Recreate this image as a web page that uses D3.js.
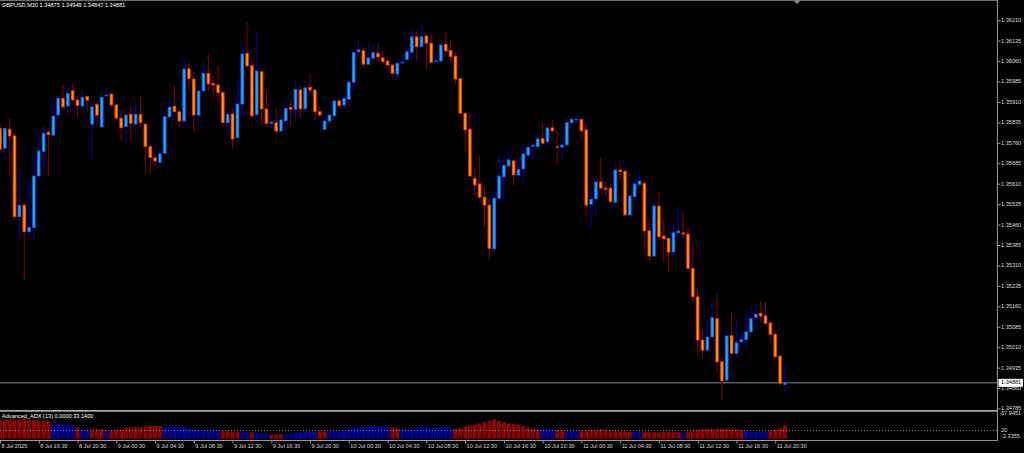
<!DOCTYPE html>
<html><head><meta charset="utf-8">
<script src="https://cdn.jsdelivr.net/npm/d3@7"></script>
<style>html,body{margin:0;padding:0;background:#000;overflow:hidden}svg{display:block}</style>
</head><body><svg id="c" width="1024" height="453"></svg>
<script>
// ---------------- DATA ----------------
const titleText = "GBPUSD,M30  1.34875 1.34949 1.34847 1.34881";
const indicatorTitle = "Advanced_ADX (13) 0.0000 33.1400";
const firstBarTime = "2025-07-08 12:30";   // M30 bars, consecutive
const open = [1.35815,1.35742,1.35812,1.35788,1.35491,1.35533,1.35436,1.35451,1.35640,1.35730,1.35801,1.35790,1.35864,1.35925,1.35897,1.35953,1.35919,1.35897,1.35932,1.35830,1.35903,1.35820,1.35934,1.35941,1.35901,1.35852,1.35821,1.35866,1.35831,1.35866,1.35830,1.35748,1.35707,1.35690,1.35723,1.35858,1.35896,1.35876,1.35842,1.36034,1.35996,1.35863,1.35953,1.36017,1.35980,1.35974,1.35946,1.35836,1.35868,1.35781,1.35904,1.36090,1.36045,1.35866,1.36023,1.35886,1.35833,1.35836,1.35805,1.35843,1.35892,1.35885,1.35956,1.35887,1.35965,1.35956,1.35876,1.35811,1.35842,1.35861,1.35916,1.35901,1.35921,1.35984,1.36096,1.36100,1.36050,1.36072,1.36090,1.36074,1.36062,1.36047,1.36014,1.36055,1.36068,1.36094,1.36151,1.36115,1.36154,1.36127,1.36060,1.36062,1.36123,1.36101,1.36080,1.35998,1.35870,1.35812,1.35631,1.35611,1.35562,1.35533,1.35373,1.35558,1.35637,1.35677,1.35696,1.35644,1.35666,1.35717,1.35748,1.35748,1.35778,1.35766,1.35817,1.35748,1.35746,1.35754,1.35836,1.35846,1.35848,1.35809,1.35536,1.35556,1.35619,1.35596,1.35595,1.35543,1.35662,1.35658,1.35497,1.35564,1.35609,1.35613,1.35439,1.35346,1.35530,1.35420,1.35411,1.35362,1.35432,1.35432,1.35427,1.35301,1.35197,1.35038,1.35001,1.35050,1.35117,1.34958,1.34891,1.35055,1.34989,1.35032,1.35040,1.35068,1.35121,1.35136,1.35127,1.35101,1.35059,1.34979,1.34875];
const high = [1.35833,1.35819,1.35852,1.35797,1.35662,1.35536,1.35625,1.35723,1.35797,1.35827,1.35809,1.35907,1.35937,1.35974,1.35974,1.35980,1.35934,1.35962,1.35937,1.35919,1.35913,1.35934,1.35953,1.35943,1.35903,1.35882,1.35882,1.35897,1.35913,1.35937,1.35833,1.35754,1.35726,1.35738,1.35864,1.35925,1.35974,1.35888,1.36068,1.36056,1.36023,1.35956,1.36060,1.36090,1.36005,1.36044,1.35956,1.35876,1.35888,1.35995,1.36133,1.36207,1.36066,1.36173,1.36025,1.35952,1.35888,1.35886,1.35860,1.35919,1.35921,1.35998,1.35970,1.35970,1.36014,1.35961,1.35894,1.35858,1.35868,1.35925,1.35925,1.35937,1.35992,1.36103,1.36139,1.36109,1.36127,1.36117,1.36129,1.36100,1.36078,1.36051,1.36060,1.36084,1.36105,1.36182,1.36173,1.36200,1.36164,1.36161,1.36090,1.36127,1.36170,1.36137,1.36093,1.36002,1.35872,1.35870,1.35668,1.35717,1.35603,1.35558,1.35579,1.35721,1.35711,1.35735,1.35699,1.35705,1.35760,1.35762,1.35762,1.35790,1.35833,1.35821,1.35846,1.35805,1.35790,1.35839,1.35860,1.35860,1.35852,1.35827,1.35613,1.35625,1.35708,1.35619,1.35613,1.35669,1.35674,1.35662,1.35570,1.35631,1.35650,1.35619,1.35481,1.35549,1.35579,1.35478,1.35417,1.35464,1.35533,1.35509,1.35450,1.35387,1.35228,1.35075,1.35111,1.35181,1.35206,1.34974,1.35081,1.35142,1.35115,1.35075,1.35150,1.35164,1.35166,1.35181,1.35179,1.35105,1.35071,1.34982,1.34949];
const low = [1.35735,1.35705,1.35637,1.35485,1.35405,1.35258,1.35417,1.35405,1.35619,1.35662,1.35640,1.35784,1.35839,1.35882,1.35858,1.35913,1.35855,1.35885,1.35876,1.35693,1.35827,1.35815,1.35929,1.35894,1.35846,1.35770,1.35766,1.35766,1.35803,1.35819,1.35650,1.35647,1.35674,1.35664,1.35721,1.35852,1.35874,1.35819,1.35821,1.35950,1.35799,1.35827,1.35950,1.35956,1.35929,1.35909,1.35821,1.35790,1.35742,1.35778,1.35864,1.36039,1.35852,1.35833,1.35827,1.35819,1.35809,1.35797,1.35803,1.35809,1.35821,1.35839,1.35855,1.35876,1.35943,1.35846,1.35858,1.35809,1.35836,1.35858,1.35892,1.35885,1.35907,1.35956,1.36078,1.36032,1.36047,1.36068,1.36054,1.36051,1.36044,1.36014,1.36002,1.36044,1.36063,1.36063,1.36068,1.36112,1.36027,1.36051,1.36054,1.36060,1.36084,1.36056,1.35978,1.35860,1.35726,1.35637,1.35570,1.35558,1.35451,1.35334,1.35356,1.35546,1.35554,1.35644,1.35604,1.35619,1.35613,1.35705,1.35701,1.35735,1.35756,1.35745,1.35794,1.35680,1.35696,1.35750,1.35833,1.35831,1.35772,1.35493,1.35451,1.35497,1.35589,1.35564,1.35540,1.35540,1.35623,1.35493,1.35494,1.35546,1.35601,1.35371,1.35325,1.35344,1.35405,1.35322,1.35289,1.35344,1.35399,1.35411,1.35297,1.35175,1.34979,1.34967,1.34995,1.35048,1.34916,1.34818,1.34889,1.34986,1.34986,1.35007,1.35007,1.35062,1.35087,1.35105,1.35095,1.35026,1.34967,1.34869,1.34847];
const close = [1.35738,1.35815,1.35787,1.35491,1.35533,1.35436,1.35451,1.35640,1.35732,1.35797,1.35792,1.35860,1.35925,1.35894,1.35943,1.35919,1.35899,1.35929,1.35918,1.35894,1.35863,1.35929,1.35937,1.35901,1.35852,1.35817,1.35864,1.35833,1.35866,1.35836,1.35748,1.35708,1.35695,1.35721,1.35858,1.35893,1.35876,1.35842,1.36033,1.35998,1.35864,1.35952,1.36017,1.35978,1.35974,1.35946,1.35836,1.35866,1.35776,1.35904,1.36088,1.36044,1.35861,1.36025,1.35886,1.35833,1.35838,1.35805,1.35846,1.35888,1.35885,1.35958,1.35887,1.35964,1.35956,1.35876,1.35864,1.35842,1.35864,1.35916,1.35898,1.35925,1.35984,1.36093,1.36103,1.36050,1.36074,1.36093,1.36077,1.36060,1.36047,1.36017,1.36054,1.36058,1.36096,1.36151,1.36115,1.36151,1.36127,1.36057,1.36063,1.36121,1.36099,1.36078,1.35996,1.35870,1.35809,1.35640,1.35607,1.35562,1.35533,1.35374,1.35558,1.35640,1.35679,1.35699,1.35644,1.35664,1.35721,1.35745,1.35753,1.35777,1.35760,1.35817,1.35806,1.35745,1.35754,1.35836,1.35848,1.35848,1.35806,1.35533,1.35554,1.35619,1.35595,1.35591,1.35546,1.35662,1.35656,1.35497,1.35567,1.35611,1.35622,1.35439,1.35346,1.35530,1.35417,1.35410,1.35360,1.35432,1.35438,1.35427,1.35301,1.35197,1.35038,1.35001,1.35048,1.35120,1.34958,1.34889,1.35053,1.34989,1.35028,1.35040,1.35068,1.35117,1.35133,1.35126,1.35099,1.35059,1.34977,1.34879,1.34881];
const adxValue = [45.8,47.5,47.5,47.5,47.5,47.5,45.8,45.8,44.2,44.2,41.7,37.6,36.8,36.0,34.3,32.7,27.8,22.9,22.9,22.9,22.9,22.9,19.6,19.6,21.2,22.9,26.2,27.8,27.8,27.8,29.4,31.1,31.1,31.1,29.4,29.4,31.1,29.4,27.8,26.2,22.9,21.2,21.2,21.2,21.2,21.2,18.8,18.8,17.2,17.2,17.2,15.5,15.5,14.7,13.1,13.1,9.8,9.8,11.4,11.4,13.1,14.7,16.3,17.2,18.0,18.8,18.8,18.8,18.0,18.0,19.6,21.2,24.5,27.0,27.8,29.4,30.3,31.1,31.1,31.1,31.1,27.8,26.2,22.9,22.9,24.5,26.2,29.4,29.4,26.2,26.2,27.8,29.4,29.4,24.5,26.2,29.4,31.9,34.3,37.6,40.1,43.4,47.5,44.2,40.9,37.6,36.0,34.3,31.1,27.8,24.5,22.9,22.9,22.9,22.9,21.2,21.2,19.6,19.6,19.6,19.6,19.6,21.2,21.2,22.9,21.2,19.6,19.6,18.0,18.0,17.2,17.2,17.2,18.0,16.3,16.3,14.7,16.3,16.3,16.3,16.3,14.7,17.2,19.6,21.2,22.9,24.5,24.5,25.3,24.5,25.3,24.5,22.9,21.2,17.2,16.3,16.3,16.3,17.2,19.6,22.9,26.2,33.14];
// R = DI- dominant (red), B = DI+ dominant (blue)
const adxDir = ("RRRRRRRRRRR"+"BBBBB"+"R"+"BB"+"RRR"+"B"+"RRRRRRRRRRR"+"BBBBBBBBBBBB"+"RRRR"+"BB"+"R"+"BBB"+"RRR"+"BBBBBBB"+"RR"+"BBBBBBBBBBBBB"+"RR"+"BBBBBBBBBBB"+"RRRRRRRRRRRRRRRRRR"+"BBB"+"RR"+"BBB"+"RRRRRRRRRRR"+"BB"+"RRRRRRRR"+"B"+"RRRRRRRRRRRR"+"BBBBB"+"RRRR").split("");
const priceTicks = [1.36210,1.36135,1.36060,1.35985,1.35910,1.35835,1.35760,1.35685,1.35610,1.35535,1.35460,1.35385,1.35310,1.35235,1.35160,1.35085,1.35010,1.34935,1.34860,1.34785];
const xTickTimes = ["2025-07-08 12:30","2025-07-08 16:30","2025-07-08 20:30","2025-07-09 00:30","2025-07-09 04:30","2025-07-09 08:30","2025-07-09 12:30","2025-07-09 16:30","2025-07-09 20:30","2025-07-10 00:30","2025-07-10 04:30","2025-07-10 08:30","2025-07-10 12:30","2025-07-10 16:30","2025-07-10 20:30","2025-07-11 00:30","2025-07-11 04:30","2025-07-11 08:30","2025-07-11 12:30","2025-07-11 16:30","2025-07-11 20:30"];
const xTickLabels = ["8 Jul 2025","8 Jul 16:30","8 Jul 20:30","9 Jul 00:30","9 Jul 04:30","9 Jul 08:30","9 Jul 12:30","9 Jul 16:30","9 Jul 20:30","10 Jul 00:30","10 Jul 04:30","10 Jul 08:30","10 Jul 12:30","10 Jul 16:30","10 Jul 20:30","11 Jul 00:30","11 Jul 04:30","11 Jul 08:30","11 Jul 12:30","11 Jul 16:30","11 Jul 20:30"];
const adxMax = 67.9451, adxMin = -3.3355;
const adxLevels = [20];
const adxAxisLabels = ["67.9451","20","-3.3355"];

// ---------------- DRAW ----------------
const parse = d3.timeParse("%Y-%m-%d %H:%M");
const N = open.length;
const t0 = parse(firstBarTime);
const times = d3.range(N).map(i => d3.timeMinute.offset(t0, 30 * i));
const bars = d3.range(N).map(i => ({t: times[i], o: open[i], h: high[i], l: low[i], c: close[i], v: adxValue[i], d: adxDir[i]}));

const W = 1024, H = 453;
const plotRight = 997.5;
const step = 4.845;
const x = d3.scaleTime().domain([times[0], times[N - 1]]).range([0, (N - 1) * step]);
const y = d3.scaleLinear().domain([1.34785, 1.36210]).range([409.0, 20.7]);
const ya = d3.scaleLinear().domain([adxMin, adxMax]).range([440, 411]);

const FONT = "'Liberation Sans', Arial, sans-serif";
const FS = 5.6;
const TXT = "#dcdcdc";
const GRID = "#9a9a9a";

const svg = d3.select("#c");
svg.append("rect").attr("width", W).attr("height", H).attr("fill", "#000");

const defs = svg.append("defs");
defs.append("clipPath").attr("id", "mainClip").append("rect").attr("x", 0).attr("y", 0).attr("width", plotRight).attr("height", 410);
defs.append("clipPath").attr("id", "subClip").append("rect").attr("x", 0).attr("y", 411.5).attr("width", plotRight).attr("height", 28.5);

// top border and shift marker
svg.append("line").attr("x1", 0).attr("x2", plotRight).attr("y1", 0.5).attr("y2", 0.5).attr("stroke", "#707070").attr("stroke-width", 1);
svg.append("path").attr("d", "M793.5,0.5L800.5,0.5L797,4Z").attr("fill", "#8a8a8a");

const main = svg.append("g").attr("clip-path", "url(#mainClip)");

// current price line
const lastC = close[N - 1];
main.append("line").attr("x1", 0).attr("x2", plotRight).attr("y1", y(lastC)).attr("y2", y(lastC))
  .attr("stroke", "#7a8896").attr("stroke-width", 1);

// wicks
main.selectAll("line.wick").data(bars).join("line").attr("class", "wick")
  .attr("x1", d => x(d.t)).attr("x2", d => x(d.t))
  .attr("y1", d => y(d.h)).attr("y2", d => y(d.l))
  .attr("stroke", d => d.c >= d.o ? "#0000a8" : "#8c0000").attr("stroke-width", 1);

// bodies (edge + center to mimic the gradient look)
const bodyG = main.selectAll("g.body").data(bars).join("g").attr("class", "body");
bodyG.append("rect")
  .attr("x", d => x(d.t) - 1.8).attr("width", 3.6)
  .attr("y", d => y(Math.max(d.o, d.c)) - 0.4)
  .attr("height", d => Math.max(1.2, y(Math.min(d.o, d.c)) - y(Math.max(d.o, d.c)) + 0.8))
  .attr("fill", d => d.c >= d.o ? "#0a5cf0" : "#f02a00");
bodyG.append("rect")
  .attr("x", d => x(d.t) - 0.9).attr("width", 1.8)
  .attr("y", d => y(Math.max(d.o, d.c)) + 0.4)
  .attr("height", d => Math.max(0, y(Math.min(d.o, d.c)) - y(Math.max(d.o, d.c)) - 0.8))
  .attr("fill", d => d.c >= d.o ? "#22a8ff" : "#ff9a00");

// title
svg.append("text").attr("x", 2).attr("y", 6).attr("dominant-baseline", "middle")
  .attr("font-family", FONT).attr("font-size", FS).attr("fill", "#ffffff").text(titleText);

// right price axis
svg.append("line").attr("x1", plotRight).attr("x2", plotRight).attr("y1", 0).attr("y2", 440.5).attr("stroke", GRID).attr("stroke-width", 1);
const pt = svg.append("g");
pt.selectAll("line").data(priceTicks).join("line")
  .attr("x1", plotRight).attr("x2", plotRight + 3).attr("y1", d => y(d)).attr("y2", d => y(d)).attr("stroke", GRID);
pt.selectAll("text").data(priceTicks).join("text")
  .attr("x", 1001).attr("y", d => y(d)).attr("dominant-baseline", "middle")
  .attr("font-family", FONT).attr("font-size", FS).attr("fill", TXT).text(d => d.toFixed(5));

// current price box
svg.append("rect").attr("x", 998.5).attr("y", y(lastC) - 4).attr("width", 24.5).attr("height", 8).attr("fill", "#ffffff");
svg.append("text").attr("x", 1001).attr("y", y(lastC)).attr("dominant-baseline", "middle")
  .attr("font-family", FONT).attr("font-size", FS).attr("fill", "#000").text(lastC.toFixed(5));

// separator between windows
svg.append("line").attr("x1", 0).attr("x2", plotRight).attr("y1", 410.9).attr("y2", 410.9).attr("stroke", "#a8a8a8").attr("stroke-width", 1.6);

// indicator histogram
const sub = svg.append("g").attr("clip-path", "url(#subClip)");
sub.selectAll("rect").data(bars).join("rect")
  .attr("x", d => x(d.t) - 1.9).attr("width", 3.8)
  .attr("y", d => ya(d.v)).attr("height", d => ya(0) - ya(d.v))
  .attr("fill", d => d.d === "B" ? "#00009c" : "#940000");
sub.selectAll("line.lvl").data(adxLevels).join("line").attr("class", "lvl")
  .attr("x1", 0).attr("x2", plotRight).attr("y1", d => ya(d)).attr("y2", d => ya(d))
  .attr("stroke", "#a0a0a0").attr("stroke-width", 0.8).attr("stroke-dasharray", "1,2");

svg.append("text").attr("x", 2).attr("y", 416.5).attr("dominant-baseline", "middle")
  .attr("font-family", FONT).attr("font-size", FS).attr("fill", "#ffffff").text(indicatorTitle);

// indicator bottom border
svg.append("line").attr("x1", 0).attr("x2", plotRight).attr("y1", 440.5).attr("y2", 440.5).attr("stroke", GRID).attr("stroke-width", 1);

// indicator axis labels
const adxLabelY = [ya(adxMax) + 3, ya(20), ya(adxMin) - 3];
svg.selectAll("text.al").data(adxAxisLabels).join("text").attr("class", "al")
  .attr("x", 1001).attr("y", (d, i) => adxLabelY[i]).attr("dominant-baseline", "middle")
  .attr("font-family", FONT).attr("font-size", FS).attr("fill", TXT).text(d => d);

// time axis
const xt = xTickTimes.map(parse);
svg.selectAll("line.xt").data(xt).join("line").attr("class", "xt")
  .attr("x1", d => x(d) + 0.5).attr("x2", d => x(d) + 0.5).attr("y1", 440.5).attr("y2", 443.5).attr("stroke", GRID);
svg.selectAll("text.xl").data(xTickLabels).join("text").attr("class", "xl")
  .attr("x", (d, i) => x(xt[i]) + 1.5).attr("y", 447).attr("dominant-baseline", "middle")
  .attr("font-family", FONT).attr("font-size", FS).attr("fill", TXT).text(d => d);
</script></body></html>
